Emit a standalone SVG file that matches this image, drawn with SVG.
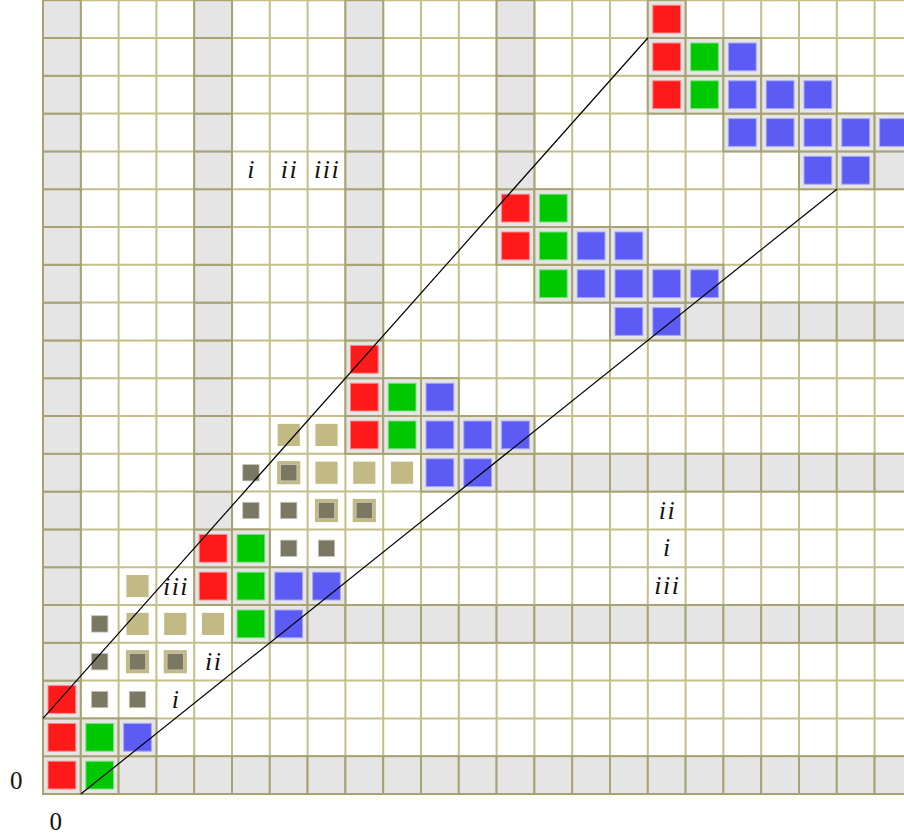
<svg xmlns="http://www.w3.org/2000/svg" xmlns:xlink="http://www.w3.org/1999/xlink" width="904" height="837" viewBox="0 0 904 837">
<style>
.gl{stroke:#c6bf8a;stroke-width:2;fill:none}
.gc{fill:#e5e5e5;stroke:#a9a273;stroke-width:2}
.r{fill:#ff1a1a;stroke:#ff8a8a;stroke-width:1}
.g{fill:#00c800;stroke:#80e080;stroke-width:1}
.b{fill:#5c5cf5;stroke:#a8a8f7;stroke-width:1}
.t{fill:#c2ba84;stroke:#ffffff;stroke-width:1}
.d{fill:#7a7862;stroke:#c8c7bd;stroke-width:0.8}
.lab{font-family:"Liberation Serif",serif;font-style:italic;font-size:26px;letter-spacing:1.5px;text-anchor:middle;fill:#111}
.num{font-family:"Liberation Serif",serif;font-size:25px;text-anchor:middle;fill:#111}
.ln{stroke:#000;stroke-width:1.2;fill:none}
</style>
<defs>
<rect id="G" width="37.8" height="37.8" class="gc"/>
<rect id="R" x="5" y="5" width="27.8" height="27.8" class="r"/>
<rect id="N" x="5" y="5" width="27.8" height="27.8" class="g"/>
<rect id="B" x="5" y="5" width="27.8" height="27.8" class="b"/>
<rect id="T" x="7.3" y="7.3" width="23.2" height="23.2" class="t"/>
<rect id="D" x="10.7" y="10.7" width="16.4" height="16.4" class="d"/>
<g id="TD"><rect x="7.3" y="7.3" width="23.2" height="23.2" fill="#c2ba84"/><rect x="10.7" y="10.7" width="16.4" height="16.4" class="d"/></g>
</defs>
<rect width="904" height="837" fill="#ffffff"/>
<g id="grid">
<path class="gl" d="M43 0V794M80.8 0V794M118.6 0V794M156.4 0V794M194.2 0V794M232 0V794M269.8 0V794M307.6 0V794M345.4 0V794M383.2 0V794M421 0V794M458.8 0V794M496.6 0V794M534.4 0V794M572.2 0V794M610 0V794M647.8 0V794M685.6 0V794M723.4 0V794M761.2 0V794M799 0V794M836.8 0V794M874.6 0V794"/>
<path class="gl" d="M43 794H904M43 756.2H904M43 718.4H904M43 680.6H904M43 642.8H904M43 605H904M43 567.2H904M43 529.4H904M43 491.6H904M43 453.8H904M43 416H904M43 378.2H904M43 340.4H904M43 302.6H904M43 264.8H904M43 227H904M43 189.2H904M43 151.4H904M43 113.6H904M43 75.8H904M43 38H904M43 0.2H904"/>
</g>
<g id="gray-cells">
<use href="#G" x="43" y="756.2"/><use href="#G" x="43" y="718.4"/><use href="#G" x="43" y="680.6"/><use href="#G" x="43" y="642.8"/><use href="#G" x="43" y="605"/><use href="#G" x="43" y="567.2"/><use href="#G" x="43" y="529.4"/><use href="#G" x="43" y="491.6"/><use href="#G" x="43" y="453.8"/><use href="#G" x="43" y="416"/><use href="#G" x="43" y="378.2"/><use href="#G" x="43" y="340.4"/><use href="#G" x="43" y="302.6"/><use href="#G" x="43" y="264.8"/><use href="#G" x="43" y="227"/><use href="#G" x="43" y="189.2"/><use href="#G" x="43" y="151.4"/><use href="#G" x="43" y="113.6"/><use href="#G" x="43" y="75.8"/><use href="#G" x="43" y="38"/><use href="#G" x="43" y="0.2"/>
<use href="#G" x="80.8" y="756.2"/><use href="#G" x="118.6" y="756.2"/><use href="#G" x="156.4" y="756.2"/><use href="#G" x="194.2" y="756.2"/><use href="#G" x="232" y="756.2"/><use href="#G" x="269.8" y="756.2"/><use href="#G" x="307.6" y="756.2"/><use href="#G" x="345.4" y="756.2"/><use href="#G" x="383.2" y="756.2"/><use href="#G" x="421" y="756.2"/><use href="#G" x="458.8" y="756.2"/><use href="#G" x="496.6" y="756.2"/><use href="#G" x="534.4" y="756.2"/><use href="#G" x="572.2" y="756.2"/><use href="#G" x="610" y="756.2"/><use href="#G" x="647.8" y="756.2"/><use href="#G" x="685.6" y="756.2"/><use href="#G" x="723.4" y="756.2"/><use href="#G" x="761.2" y="756.2"/><use href="#G" x="799" y="756.2"/><use href="#G" x="836.8" y="756.2"/><use href="#G" x="874.6" y="756.2"/>
<use href="#G" x="194.2" y="567.2"/><use href="#G" x="194.2" y="529.4"/><use href="#G" x="194.2" y="491.6"/><use href="#G" x="194.2" y="453.8"/><use href="#G" x="194.2" y="416"/><use href="#G" x="194.2" y="378.2"/><use href="#G" x="194.2" y="340.4"/><use href="#G" x="194.2" y="302.6"/><use href="#G" x="194.2" y="264.8"/><use href="#G" x="194.2" y="227"/><use href="#G" x="194.2" y="189.2"/><use href="#G" x="194.2" y="151.4"/><use href="#G" x="194.2" y="113.6"/><use href="#G" x="194.2" y="75.8"/><use href="#G" x="194.2" y="38"/><use href="#G" x="194.2" y="0.2"/>
<use href="#G" x="232" y="605"/><use href="#G" x="269.8" y="605"/><use href="#G" x="307.6" y="605"/><use href="#G" x="345.4" y="605"/><use href="#G" x="383.2" y="605"/><use href="#G" x="421" y="605"/><use href="#G" x="458.8" y="605"/><use href="#G" x="496.6" y="605"/><use href="#G" x="534.4" y="605"/><use href="#G" x="572.2" y="605"/><use href="#G" x="610" y="605"/><use href="#G" x="647.8" y="605"/><use href="#G" x="685.6" y="605"/><use href="#G" x="723.4" y="605"/><use href="#G" x="761.2" y="605"/><use href="#G" x="799" y="605"/><use href="#G" x="836.8" y="605"/><use href="#G" x="874.6" y="605"/>
<use href="#G" x="345.4" y="416"/><use href="#G" x="345.4" y="378.2"/><use href="#G" x="345.4" y="340.4"/><use href="#G" x="345.4" y="302.6"/><use href="#G" x="345.4" y="264.8"/><use href="#G" x="345.4" y="227"/><use href="#G" x="345.4" y="189.2"/><use href="#G" x="345.4" y="151.4"/><use href="#G" x="345.4" y="113.6"/><use href="#G" x="345.4" y="75.8"/><use href="#G" x="345.4" y="38"/><use href="#G" x="345.4" y="0.2"/>
<use href="#G" x="421" y="453.8"/><use href="#G" x="458.8" y="453.8"/><use href="#G" x="496.6" y="453.8"/><use href="#G" x="534.4" y="453.8"/><use href="#G" x="572.2" y="453.8"/><use href="#G" x="610" y="453.8"/><use href="#G" x="647.8" y="453.8"/><use href="#G" x="685.6" y="453.8"/><use href="#G" x="723.4" y="453.8"/><use href="#G" x="761.2" y="453.8"/><use href="#G" x="799" y="453.8"/><use href="#G" x="836.8" y="453.8"/><use href="#G" x="874.6" y="453.8"/>
<use href="#G" x="496.6" y="227"/><use href="#G" x="496.6" y="189.2"/><use href="#G" x="496.6" y="151.4"/><use href="#G" x="496.6" y="113.6"/><use href="#G" x="496.6" y="75.8"/><use href="#G" x="496.6" y="38"/><use href="#G" x="496.6" y="0.2"/>
<use href="#G" x="610" y="302.6"/><use href="#G" x="647.8" y="302.6"/><use href="#G" x="685.6" y="302.6"/><use href="#G" x="723.4" y="302.6"/><use href="#G" x="761.2" y="302.6"/><use href="#G" x="799" y="302.6"/><use href="#G" x="836.8" y="302.6"/><use href="#G" x="874.6" y="302.6"/>
<use href="#G" x="647.8" y="75.8"/><use href="#G" x="647.8" y="38"/><use href="#G" x="647.8" y="0.2"/>
<use href="#G" x="799" y="151.4"/><use href="#G" x="836.8" y="151.4"/><use href="#G" x="874.6" y="151.4"/>
<use href="#G" x="80.8" y="718.4"/><use href="#G" x="118.6" y="718.4"/>
<use href="#G" x="232" y="567.2"/><use href="#G" x="232" y="529.4"/><use href="#G" x="269.8" y="567.2"/><use href="#G" x="307.6" y="567.2"/>
<use href="#G" x="383.2" y="416"/><use href="#G" x="383.2" y="378.2"/><use href="#G" x="421" y="416"/><use href="#G" x="421" y="378.2"/><use href="#G" x="458.8" y="416"/><use href="#G" x="496.6" y="416"/>
<use href="#G" x="534.4" y="264.8"/><use href="#G" x="534.4" y="227"/><use href="#G" x="534.4" y="189.2"/><use href="#G" x="572.2" y="264.8"/><use href="#G" x="572.2" y="227"/><use href="#G" x="610" y="264.8"/><use href="#G" x="610" y="227"/><use href="#G" x="647.8" y="264.8"/><use href="#G" x="685.6" y="264.8"/>
<use href="#G" x="685.6" y="75.8"/><use href="#G" x="685.6" y="38"/><use href="#G" x="723.4" y="113.6"/><use href="#G" x="723.4" y="75.8"/><use href="#G" x="723.4" y="38"/><use href="#G" x="761.2" y="113.6"/><use href="#G" x="761.2" y="75.8"/><use href="#G" x="799" y="113.6"/><use href="#G" x="799" y="75.8"/><use href="#G" x="836.8" y="113.6"/><use href="#G" x="874.6" y="113.6"/>
</g>
<g id="block1">
<use href="#R" x="43" y="756.2"/><use href="#R" x="43" y="718.4"/><use href="#R" x="43" y="680.6"/>
<use href="#N" x="80.8" y="756.2"/><use href="#N" x="80.8" y="718.4"/>
<use href="#B" x="118.6" y="718.4"/>
</g>
<g id="block2">
<use href="#R" x="194.2" y="567.2"/><use href="#R" x="194.2" y="529.4"/>
<use href="#N" x="232" y="605"/><use href="#N" x="232" y="567.2"/><use href="#N" x="232" y="529.4"/>
<use href="#B" x="269.8" y="605"/><use href="#B" x="269.8" y="567.2"/><use href="#B" x="307.6" y="567.2"/>
</g>
<g id="block3">
<use href="#R" x="345.4" y="416"/><use href="#R" x="345.4" y="378.2"/><use href="#R" x="345.4" y="340.4"/>
<use href="#N" x="383.2" y="416"/><use href="#N" x="383.2" y="378.2"/>
<use href="#B" x="421" y="453.8"/><use href="#B" x="421" y="416"/><use href="#B" x="421" y="378.2"/><use href="#B" x="458.8" y="453.8"/><use href="#B" x="458.8" y="416"/><use href="#B" x="496.6" y="416"/>
</g>
<g id="block4">
<use href="#R" x="496.6" y="227"/><use href="#R" x="496.6" y="189.2"/>
<use href="#N" x="534.4" y="264.8"/><use href="#N" x="534.4" y="227"/><use href="#N" x="534.4" y="189.2"/>
<use href="#B" x="572.2" y="264.8"/><use href="#B" x="572.2" y="227"/><use href="#B" x="610" y="302.6"/><use href="#B" x="610" y="264.8"/><use href="#B" x="610" y="227"/><use href="#B" x="647.8" y="302.6"/><use href="#B" x="647.8" y="264.8"/><use href="#B" x="685.6" y="264.8"/>
</g>
<g id="block5">
<use href="#R" x="647.8" y="75.8"/><use href="#R" x="647.8" y="38"/><use href="#R" x="647.8" y="0.2"/>
<use href="#N" x="685.6" y="75.8"/><use href="#N" x="685.6" y="38"/>
<use href="#B" x="723.4" y="113.6"/><use href="#B" x="723.4" y="75.8"/><use href="#B" x="723.4" y="38"/><use href="#B" x="761.2" y="113.6"/><use href="#B" x="761.2" y="75.8"/><use href="#B" x="799" y="151.4"/><use href="#B" x="799" y="113.6"/><use href="#B" x="799" y="75.8"/><use href="#B" x="836.8" y="151.4"/><use href="#B" x="836.8" y="113.6"/><use href="#B" x="874.6" y="113.6"/>
</g>
<g id="tan1">
<use href="#T" x="118.6" y="567.2"/>
<use href="#D" x="80.8" y="605"/><use href="#T" x="118.6" y="605"/><use href="#T" x="156.4" y="605"/><use href="#T" x="194.2" y="605"/>
<use href="#D" x="80.8" y="642.8"/><use href="#TD" x="118.6" y="642.8"/><use href="#TD" x="156.4" y="642.8"/>
<use href="#D" x="80.8" y="680.6"/><use href="#D" x="118.6" y="680.6"/>
</g>
<g id="tan2">
<use href="#T" x="269.8" y="416"/><use href="#T" x="307.6" y="416"/>
<use href="#D" x="232" y="453.8"/><use href="#TD" x="269.8" y="453.8"/><use href="#T" x="307.6" y="453.8"/><use href="#T" x="345.4" y="453.8"/><use href="#T" x="383.2" y="453.8"/>
<use href="#D" x="232" y="491.6"/><use href="#D" x="269.8" y="491.6"/><use href="#TD" x="307.6" y="491.6"/><use href="#TD" x="345.4" y="491.6"/>
<use href="#D" x="269.8" y="529.4"/><use href="#D" x="307.6" y="529.4"/>
</g>
<g id="connectors">
<line class="ln" x1="43" y1="718.4" x2="647.8" y2="38"/>
<line class="ln" x1="80.8" y1="794" x2="836.8" y2="189.2"/>
</g>
<g id="labels">
<text class="lab" x="176" y="595">iii</text>
<text class="lab" x="213.8" y="670">ii</text>
<text class="lab" x="176" y="707.5">i</text>
<text class="lab" x="251.6" y="178.3">i</text>
<text class="lab" x="289.4" y="178.3">ii</text>
<text class="lab" x="327.2" y="178.3">iii</text>
<text class="lab" x="667.4" y="518.5">ii</text>
<text class="lab" x="667.4" y="556.3">i</text>
<text class="lab" x="667.4" y="594.1">iii</text>
<text class="num" x="16.3" y="789.3">0</text>
<text class="num" x="55.8" y="830">0</text>
</g>
</svg>
